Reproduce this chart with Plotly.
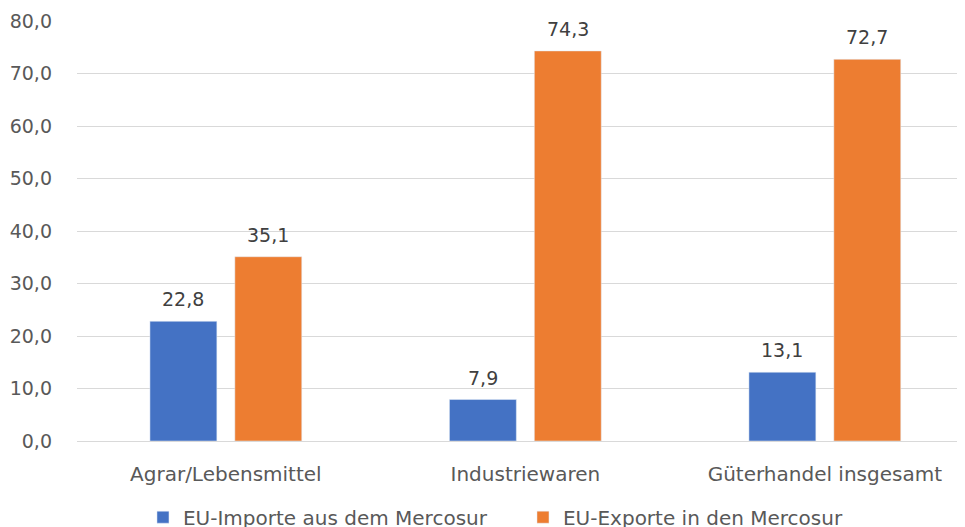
import plotly.graph_objects as go

categories = ["Agrar/Lebensmittel", "Industriewaren", "Güterhandel insgesamt"]
imports_vals = [22.8, 7.9, 13.1]
exports_vals = [35.1, 74.3, 72.7]
series_names = ["EU-Importe aus dem Mercosur", "EU-Exporte in den Mercosur"]
y_ticks = [0, 10, 20, 30, 40, 50, 60, 70, 80]

FONT = "DejaVu Sans"
fig = go.Figure()
fig.add_trace(go.Bar(x=categories, y=imports_vals, name=series_names[0],
                     marker_color="#4472C4"))
fig.add_trace(go.Bar(x=categories, y=exports_vals, name=series_names[1],
                     marker_color="#ED7D31"))

def fmt(v):
    return f"{v:.1f}".replace(".", ",")

for vals, shift in ((imports_vals, -42.5), (exports_vals, 42.5)):
    for c, v in zip(categories, vals):
        fig.add_annotation(x=c, y=v, text=fmt(v), showarrow=False,
                           xshift=shift, yshift=9, yanchor="bottom",
                           font=dict(size=19, color="#404040", family=FONT))

fig.update_layout(
    width=957, height=519,
    margin=dict(l=69, r=0, t=13, b=86, autoexpand=False),
    paper_bgcolor="white", plot_bgcolor="white",
    separators=",.",
    barmode="group", bargap=0.433, bargroupgap=0.212,
    font=dict(family=FONT, size=19, color="#595959"),
    legend=dict(orientation="h", x=0.0743, xanchor="left", y=-0.135, yanchor="top",
                font=dict(size=20, color="#595959"),
                entrywidth=335, entrywidthmode="pixels",
                traceorder="normal"),
    showlegend=True,
)
fig.update_xaxes(range=[-0.497, 2.468], showgrid=False, showline=False, ticks="",
                 automargin=False, ticklabelstandoff=19,
                 tickfont=dict(size=20, color="#595959"))
fig.update_yaxes(range=[0, 80], tickvals=y_ticks, tickformat=".1f",
                 showgrid=True, gridcolor="#D9D9D9", gridwidth=1,
                 zeroline=True, zerolinecolor="#D9D9D9", zerolinewidth=1,
                 showline=False, ticks="", ticklabelstandoff=24, automargin=False,
                 tickfont=dict(size=19, color="#595959"))

fig.write_html("out.html")
